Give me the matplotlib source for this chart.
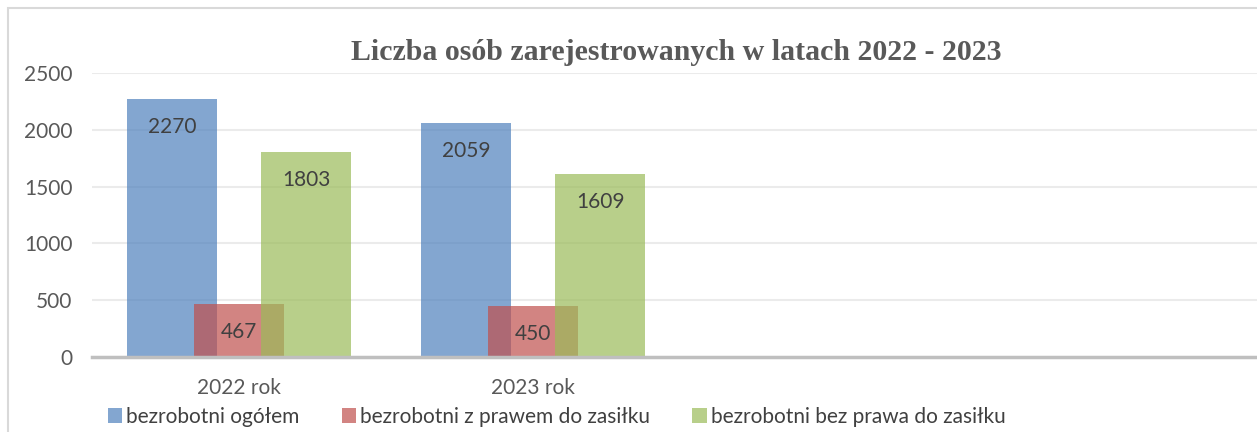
import numpy as np
import matplotlib
matplotlib.use('Agg')
import matplotlib.pyplot as plt
from matplotlib.patches import Patch, Rectangle

# dane
kategorie = ['2022 rok', '2023 rok', '', '']
ogolem = [2270, 2059]
z_prawem = [467, 450]
bez_prawa = [1803, 1609]
serie = ['bezrobotni ogółem', 'bezrobotni z prawem do zasiłku', 'bezrobotni bez prawa do zasiłku']
kolory = ['#4F81BD', '#C0504D', '#9BBB59']

plt.rcParams['font.family'] = ['Lato', 'DejaVu Sans']

fig = plt.figure(figsize=(12.57, 4.32), dpi=100)
ax = fig.add_axes([92 / 1257, 75 / 432, 1176 / 1257, 284 / 432])

x = np.arange(len(ogolem))
w = 0.303
off = 0.228
wartosci = [ogolem, z_prawem, bez_prawa]
for i, (vals, kol) in enumerate(zip(wartosci, kolory)):
    bars = ax.bar(x + (i - 1) * off, vals, width=w, color=kol, alpha=0.7,
                  linewidth=0, zorder=2 + i)
    for b, v in zip(bars, vals):
        ax.text(b.get_x() + b.get_width() / 2, v - 245, str(v), ha='center', va='center',
                fontsize=15, color='#404040', zorder=10)

ax.set_xlim(-0.5, 3.5)
ax.set_ylim(0, 2500)
ax.set_yticks(range(0, 2501, 500))
ax.set_xticks(range(len(kategorie)))
ax.set_xticklabels(kategorie)
ax.tick_params(axis='both', length=0, labelsize=15, colors='#595959')
ax.tick_params(axis='y', pad=14)
ax.tick_params(axis='x', pad=15)
ax.grid(axis='y', color='#EBEBEB', linewidth=1.5, zorder=0)
ax.set_axisbelow(True)
for s in ['top', 'right', 'left']:
    ax.spines[s].set_visible(False)
ax.spines['bottom'].set_color('#BFBFBF')
ax.spines['bottom'].set_linewidth(2.5)
ax.spines['bottom'].set_zorder(20)

fig.text(676 / 1257, 1 - 53 / 432, 'Liczba osób zarejestrowanych w latach 2022 - 2023',
         ha='center', va='center', fontsize=21.5, fontweight='bold',
         family='Liberation Serif', color='#595959')

uchwyty = [Patch(facecolor=k, alpha=0.7, edgecolor='none') for k in kolory]
fig.legend(uchwyty, serie, loc='center left', bbox_to_anchor=(89 / 1257, 1 - 417 / 432),
           ncol=3, frameon=False, fontsize=15, labelcolor='#404040',
           handlelength=0.7, handleheight=0.7, handletextpad=0.2, columnspacing=2.0)

# ramka wykresu
fig.add_artist(Rectangle((8 / 1257, -0.1), 1.2, 1.1 - 8 / 432, transform=fig.transFigure,
                         fill=False, edgecolor='#D9D9D9', linewidth=1.5))

fig.savefig('out.png', dpi=100)
